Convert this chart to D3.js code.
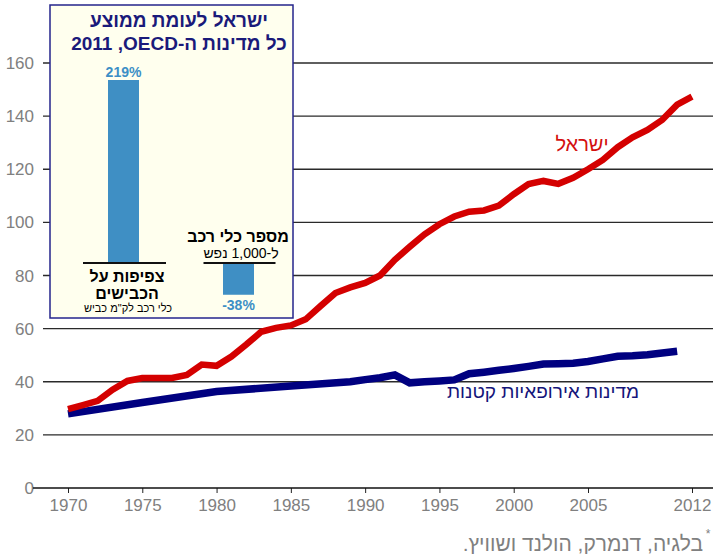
<!DOCTYPE html>
<html>
<head>
<meta charset="utf-8">
<script src="https://cdn.jsdelivr.net/npm/d3@7"></script>
<style>
  body { margin: 0; background: #fff; }
  svg { display: block; font-family: "Liberation Sans", Arial, sans-serif; }
</style>
</head>
<body>
<div id="chart"></div>
<script>
// main series: vehicles per km of road
const israelYears = d3.range(1970, 2013);
const israelValues = [29.7, 31.2, 32.8, 37, 40.3, 41.4, 41.4, 41.4, 42.6, 46.5,
  46, 49.5, 54, 58.8, 60.3, 61.2, 63.5, 68.5, 73.4, 75.5,
  77.2, 80, 85.9, 90.8, 95.5, 99.3, 102.2, 104, 104.5, 106.3,
  110.6, 114.4, 115.6, 114.5, 116.8, 120, 123.5, 128.3, 132, 134.8,
  138.6, 144.3, 147.3];

const europeYears = [1970, 1975, 1980, 1985, 1989, 1990, 1991, 1992, 1993, 1994, 1995, 1996, 1997,
  1998, 1999, 2000, 2001, 2002, 2003, 2004, 2005, 2006, 2007, 2008, 2009, 2010, 2011];
const europeValues = [27.9, 32.2, 36.3, 38.4, 40.0, 40.8, 41.5, 42.6, 39.6, 40.0, 40.3, 40.7, 43.0,
  43.6, 44.3, 45.0, 45.8, 46.7, 46.8, 47.0, 47.6, 48.6, 49.6, 49.8, 50.2, 50.8, 51.5];

const yTicks = [0, 20, 40, 60, 80, 100, 120, 140, 160];
const xTicks = [1970, 1975, 1980, 1985, 1990, 1995, 2000, 2005, 2012];

// inset: Israel vs OECD average, 2011
const insetCats = ["density", "cars"];
const insetValues = [219, -38];
const insetLabels = ["219%", "-38%"];

const width = 713, height = 554;

const svg = d3.select('#chart').append('svg')
  .attr('width', width)
  .attr('height', height);

const x = d3.scaleLinear().domain([1970, 2012]).range([68, 692]);
const y = d3.scaleLinear().domain([0, 160]).range([488, 63]);

// gridlines (also act as the left ticks)
svg.append('g').selectAll('line')
  .data(yTicks.filter(d => d > 0))
  .enter().append('line')
  .attr('x1', 43).attr('x2', width)
  .attr('y1', d => y(d)).attr('y2', d => y(d))
  .style('stroke', '#2a2a2a')
  .style('stroke-width', 1.4);

// y labels
svg.append('g').selectAll('text')
  .data(yTicks)
  .enter().append('text')
  .attr('x', 34)
  .attr('y', d => y(d) + 6)
  .attr('text-anchor', 'end')
  .style('font-size', '17px')
  .style('fill', '#808080')
  .text(d => d);

// x axis
const xAxis = svg.append('g')
  .attr('transform', `translate(0,${y(0)})`)
  .call(d3.axisBottom(x).tickValues(xTicks).tickFormat(d3.format('d')).tickSize(5).tickPadding(6));
xAxis.select('.domain').remove();
xAxis.selectAll('.tick line').style('stroke', '#222');
xAxis.selectAll('.tick text')
  .style('font-size', '17px')
  .style('font-family', '"Liberation Sans", Arial, sans-serif')
  .style('fill', '#808080');

svg.append('line')
  .attr('x1', 33).attr('x2', width)
  .attr('y1', y(0)).attr('y2', y(0))
  .style('stroke', '#111')
  .style('stroke-width', 1.6);

// lines
const line = d3.line()
  .x(d => x(d[0]))
  .y(d => y(d[1]));

svg.append('path')
  .datum(d3.zip(europeYears, europeValues))
  .attr('d', line)
  .style('fill', 'none')
  .style('stroke', '#000080')
  .style('stroke-width', 7.5);

svg.append('path')
  .datum(d3.zip(israelYears, israelValues))
  .attr('d', line)
  .style('fill', 'none')
  .style('stroke', '#d40000')
  .style('stroke-width', 6.5);

// series labels
svg.append('text')
  .attr('x', 582).attr('y', 151)
  .attr('text-anchor', 'middle')
  .attr('direction', 'rtl')
  .style('font-size', '20px')
  .style('fill', '#d41010')
  .text('ישראל');

svg.append('text')
  .attr('x', 543).attr('y', 398)
  .attr('text-anchor', 'middle')
  .attr('direction', 'rtl')
  .style('font-size', '19px')
  .style('fill', '#14147a')
  .text('מדינות אירופאיות קטנות');

// footnote
svg.append('text')
  .attr('x', 703).attr('y', 551)
  .attr('text-anchor', 'start')
  .attr('direction', 'rtl')
  .style('font-size', '21px')
  .style('fill', '#808080')
  .text('בלגיה, דנמרק, הולנד ושוויץ.');
svg.append('text')
  .attr('x', 708).attr('y', 538)
  .attr('text-anchor', 'middle')
  .style('font-size', '12px')
  .style('fill', '#808080')
  .text('*');

// INSET
const inset = svg.append('g');
inset.append('rect')
  .attr('x', 50).attr('y', 5)
  .attr('width', 243).attr('height', 313)
  .style('fill', '#ffffee')
  .style('stroke', '#24248c')
  .style('stroke-width', 1.5);

// RLM keeps the year on the far left as in the original
const titleLines = ['ישראל לעומת ממוצע', 'כל מדינות ה-OECD\u200F, 2011'];
inset.selectAll('.ititle')
  .data(titleLines)
  .enter().append('text')
  .attr('class', 'ititle')
  .attr('x', 179)
  .attr('y', (d, i) => 27 + i * 23)
  .attr('text-anchor', 'middle')
  .attr('direction', 'rtl')
  .style('font-size', '19px')
  .style('font-weight', 'bold')
  .style('fill', '#1a1a7a')
  .text(d => d);

const ix = d3.scalePoint().domain(insetCats).range([123.5, 238.5]);
const iy = d3.scaleLinear().domain([0, 219]).range([263, 80]);
const barW = 31;

inset.selectAll('.ibar')
  .data(insetValues)
  .enter().append('rect')
  .attr('class', 'ibar')
  .attr('x', (d, i) => ix(insetCats[i]) - barW / 2)
  .attr('y', d => iy(Math.max(0, d)))
  .attr('width', barW)
  .attr('height', d => Math.abs(iy(d) - iy(0)))
  .style('fill', '#3f8fc4');

const baseHalf = [41.5, 36];
inset.selectAll('.ibase')
  .data(insetCats)
  .enter().append('line')
  .attr('x1', (d, i) => ix(d) + 1 - baseHalf[i])
  .attr('x2', (d, i) => ix(d) + 1 + baseHalf[i])
  .attr('y1', iy(0)).attr('y2', iy(0))
  .style('stroke', '#111')
  .style('stroke-width', 2);

inset.selectAll('.ival')
  .data(insetValues)
  .enter().append('text')
  .attr('class', 'ival')
  .attr('x', (d, i) => ix(insetCats[i]))
  .attr('y', d => d > 0 ? iy(d) - 3 : iy(d) + 15)
  .attr('text-anchor', 'middle')
  .style('font-size', '14px')
  .style('font-weight', 'bold')
  .style('fill', '#3d8fc6')
  .text((d, i) => insetLabels[i]);

// category labels
const catText = [
  {t: 'צפיפות על', x: 127, y: 282, s: 16, b: true},
  {t: 'הכבישים', x: 127, y: 299, s: 16, b: true},
  {t: 'כלי רכב לק"מ כביש', x: 128, y: 312, s: 11, b: false},
  {t: 'מספר כלי רכב', x: 238, y: 242, s: 16, b: true},
  {t: 'ל-1,000 נפש', x: 241, y: 258, s: 14, b: false}
];
inset.selectAll('.icat')
  .data(catText)
  .enter().append('text')
  .attr('class', 'icat')
  .attr('x', d => d.x)
  .attr('y', d => d.y)
  .attr('text-anchor', 'middle')
  .attr('direction', 'rtl')
  .style('font-size', d => d.s + 'px')
  .style('font-weight', d => d.b ? 'bold' : 'normal')
  .style('fill', '#000')
  .text(d => d.t);
</script>
</body>
</html>
